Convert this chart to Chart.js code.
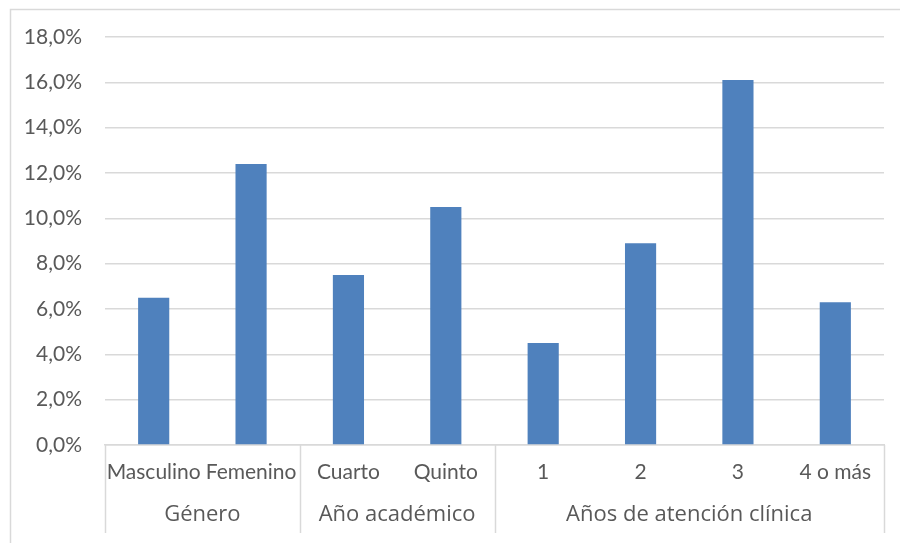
<!DOCTYPE html>
<html>
<head>
<meta charset="utf-8">
<script src="https://cdn.jsdelivr.net/npm/chart.js@4/dist/chart.umd.min.js"></script>
<style>
  html, body { margin: 0; padding: 0; background: #ffffff; }
  #wrap { position: relative; width: 900px; height: 543px; }
</style>
</head>
<body>
<div id="wrap"><canvas id="chart"></canvas></div>
<script>
/* global Chart */

// Series values (percent)
const categories = ["Masculino", "Femenino", "Cuarto", "Quinto", "1", "2", "3", "4 o más"];
const values = [6.5, 12.4, 7.5, 10.5, 4.5, 8.9, 16.1, 6.3];

// Second level of the category axis
const groupNames = ["Género", "Año académico", "Años de atención clínica"];
const groupSizes = [2, 2, 4];

const textColor = "#595959";
const lineColor = "#d9d9d9";
const fontFamily = "Lato, 'Open Sans', sans-serif";
const groupFont = "22px 'Open Sans', 'Noto Sans', sans-serif";

// Frame, group separators and group labels under the category axis
const groupAxisPlugin = {
  id: "groupAxis",
  beforeDraw(chart) {
    const ctx = chart.ctx;
    ctx.save();
    ctx.strokeStyle = lineColor;
    ctx.lineWidth = 1.5;
    ctx.beginPath();
    ctx.moveTo(10.5, chart.height);
    ctx.lineTo(10.5, 9.5);
    ctx.lineTo(chart.width, 9.5);
    ctx.stroke();
    ctx.restore();
  },
  afterDraw(chart) {
    const ctx = chart.ctx;
    const x = chart.scales.x;
    const top = chart.chartArea.bottom;
    const bottom = top + 88;

    const bounds = [x.left];
    let idx = 0;
    groupSizes.forEach((size) => {
      idx += size;
      if (idx < categories.length) {
        const a = x.getPixelForValue(idx - 1);
        const b = x.getPixelForValue(idx);
        bounds.push((a + b) / 2);
      } else {
        bounds.push(x.right);
      }
    });

    ctx.save();
    ctx.strokeStyle = lineColor;
    ctx.lineWidth = 1.5;
    bounds.forEach((bx) => {
      const px = Math.round(bx) + 0.5;
      ctx.beginPath();
      ctx.moveTo(px, top);
      ctx.lineTo(px, bottom);
      ctx.stroke();
    });

    ctx.fillStyle = textColor;
    ctx.font = groupFont;
    ctx.textAlign = "center";
    ctx.textBaseline = "middle";
    groupNames.forEach((name, i) => {
      ctx.fillText(name, (bounds[i] + bounds[i + 1]) / 2, top + 70);
    });
    ctx.restore();
  },
};

new Chart(document.getElementById("chart"), {
  type: "bar",
  data: {
    labels: categories,
    datasets: [
      {
        data: values,
        backgroundColor: "#4f81bd",
        borderWidth: 0,
        barPercentage: 0.64,
        categoryPercentage: 0.5,
      },
    ],
  },
  options: {
    responsive: true,
    maintainAspectRatio: false,
    animation: false,
    layout: {
      padding: { top: 37, right: 16, bottom: 0, left: 0 },
    },
    plugins: {
      legend: { display: false },
      tooltip: { enabled: false },
    },
    scales: {
      x: {
        grid: { display: false, drawTicks: false },
        border: { display: true, color: lineColor, width: 1.5 },
        ticks: {
          color: textColor,
          font: { family: fontFamily, size: 21 },
          padding: 15,
          autoSkip: false,
          maxRotation: 0,
        },
        afterFit(scale) {
          scale.height = 98;
        },
      },
      y: {
        min: 0,
        max: 18,
        grid: { color: lineColor, lineWidth: 1.5, drawTicks: false },
        border: { display: false },
        ticks: {
          stepSize: 2,
          color: textColor,
          font: { family: fontFamily, size: 21 },
          padding: 23,
          callback: (v) => v.toFixed(1).replace(".", ",") + "%",
        },
        afterFit(scale) {
          scale.width = 105;
        },
      },
    },
  },
  plugins: [groupAxisPlugin],
});
</script>
</body>
</html>
